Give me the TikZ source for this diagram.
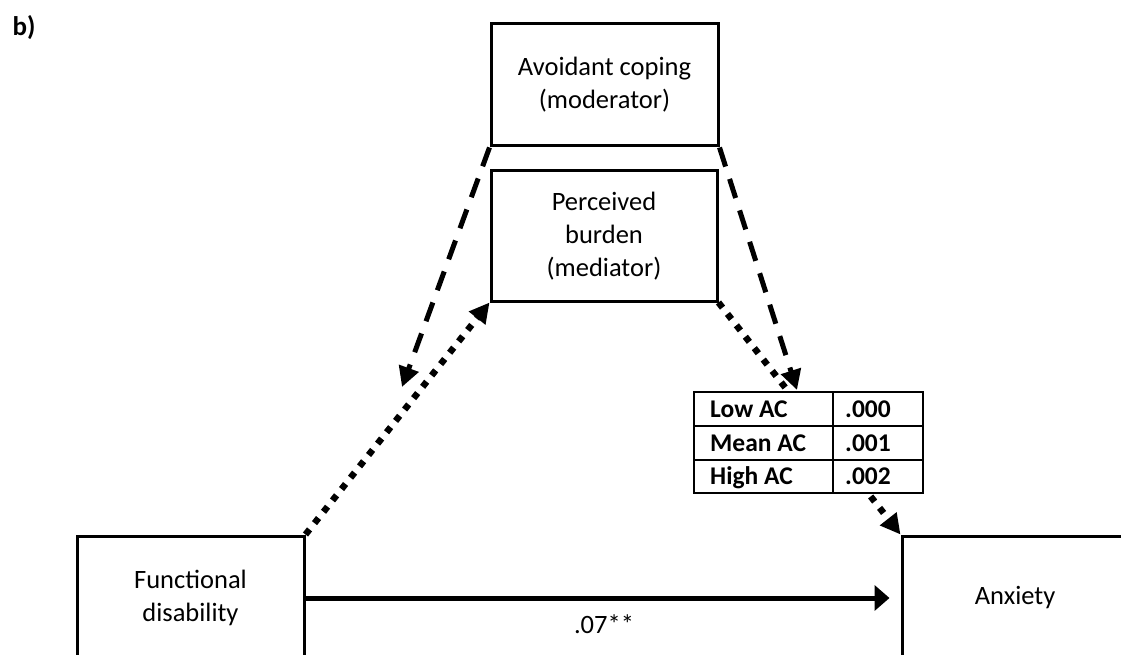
\documentclass[tikz,border=0pt]{standalone}
\usepackage{fontspec}
\setmainfont{Carlito}
\usetikzlibrary{arrows.meta,calc}
\begin{document}
\begin{tikzpicture}[x=1pt,y=-1pt,
  box/.style={draw,line width=3pt,inner sep=0pt,align=center,font=\fontsize{26.5}{33}\selectfont},
  dashedarrow/.style={line width=5pt,dash pattern=on 20pt off 13pt,-{Triangle[length=20pt,width=20pt]}},
  dottedarrow/.style={line width=6.5pt,dash pattern=on 6.5pt off 8pt,-{Triangle[length=20pt,width=20pt]}},
  solidarrow/.style={line width=5pt,-{Triangle[length=15pt,width=25pt]}},
  cell/.style={anchor=base west,inner sep=0pt,font=\fontsize{25.5}{26}\bfseries\selectfont},
  tabline/.style={line width=2.5pt},
  plain/.style={inner sep=0pt,font=\fontsize{26.5}{33}\selectfont},
]
\useasboundingbox (0,0) rectangle (1121,655);
\clip (0,0) rectangle (1121,655);
\fill[white] (0,0) rectangle (1121,655);

\node[plain,font=\fontsize{27}{30}\bfseries\selectfont] (lab) at (24,28) {b)};

\node[box,minimum width=227pt,minimum height=122pt] (ac) at (604.5,85) {Avoidant coping\\(moderator)};
\node[box,minimum width=226pt,minimum height=130pt] (pb) at (604,236) {Perceived\\burden\\(mediator)};
\node[box,minimum width=227pt,minimum height=124pt] (fd) at (190.5,598) {Functional\\disability};
\node[box,minimum width=226pt,minimum height=124pt] (anx) at (1015,598) {Anxiety};

\coordinate (lt) at (402,387);
\coordinate (rt) at (797,390);
\draw[dashedarrow] (ac.south west) -- (lt);
\draw[dashedarrow] (ac.south east) -- (rt);
\draw[dottedarrow] (fd.north east) -- (pb.south west);
\draw[dottedarrow] (pb.south east) -- (anx.north west);
\draw[solidarrow] (fd.east) -- ([xshift=-11pt]anx.west);

\node[plain] (coef) at (604,624) {.07**};

\node[draw,tabline,fill=white,minimum width=229pt,minimum height=101pt,inner sep=0pt] (tbl) at (808.5,442.5) {};
\draw[tabline] (833,392) -- (833,493);
\draw[tabline] (694,426) -- (923,426);
\draw[tabline] (694,460) -- (923,460);
\node[cell] (r1a) at (710,417) {Low AC};
\node[cell] (r2a) at (710,451) {Mean AC};
\node[cell] (r3a) at (710,484) {High AC};
\node[cell] (r1b) at (845,417) {.000};
\node[cell] (r2b) at (845,451) {.001};
\node[cell] (r3b) at (845,484) {.002};
\end{tikzpicture}
\end{document}
